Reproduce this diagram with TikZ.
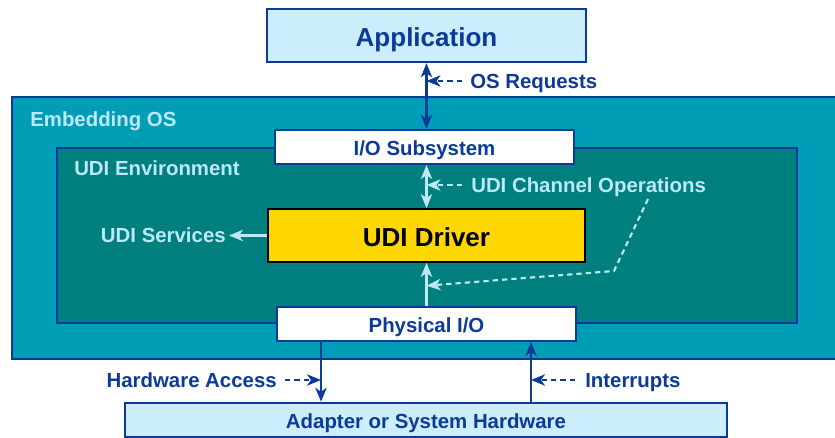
\documentclass[tikz,border=0pt]{standalone}
\usepackage{fontspec}
\setmainfont{Liberation Sans}
\usetikzlibrary{arrows.meta,positioning,calc}
\definecolor{udiblue}{HTML}{0B3A99}
\definecolor{udipale}{HTML}{BDE9F6}
\definecolor{hwfill}{HTML}{CCEDFC}
\definecolor{osfill}{HTML}{009EB6}
\definecolor{envfill}{HTML}{007F7F}
\definecolor{drvfill}{HTML}{FFD700}
\newcommand{\px}{0.75pt}
\tikzset{
  font=\bfseries\fontsize{15.3}{18}\selectfont,
  every node/.style={text height=11pt, text depth=0pt},
  bigtext/.style={font=\bfseries\fontsize{19.5}{22}\selectfont, text height=17pt},
  hwbox/.style={
    draw=udiblue,
    fill=hwfill,
    line width=1.9pt,
    text=udiblue,
    text height=13pt,
    inner sep=0pt
  },
  osbox/.style={
    draw=udiblue,
    fill=osfill,
    line width=2.2pt,
    inner sep=0pt
  },
  envbox/.style={
    draw=udiblue,
    fill=envfill,
    line width=0.9pt,
    inner sep=0pt
  },
  ioblock/.style={
    draw=udiblue,
    fill=white,
    line width=1.6pt,
    text=udiblue,
    text height=13pt,
    minimum width=299*\px,
    minimum height=34*\px,
    inner sep=0pt
  },
  drvbox/.style={
    draw=black,
    fill=drvfill,
    line width=1.4pt,
    bigtext,
    minimum width=317*\px,
    minimum height=53*\px,
    inner sep=0pt
  },
  lbl/.style={inner sep=0pt, text=udiblue},
  palelbl/.style={inner sep=0pt, text=udipale},
  arrow/.style={-{Stealth[length=10.5pt,width=8.5pt,inset=3pt]}, line width=1.6pt, draw=udiblue},
  dblarrow/.style={arrow, {Stealth[length=10.5pt,width=8.5pt,inset=3pt]}-{Stealth[length=10.5pt,width=8.5pt,inset=3pt]}},
  dasharrow/.style={arrow, dash pattern=on 4pt off 3pt},
  palearrow/.style={arrow, draw=udipale},
  paledbl/.style={dblarrow, draw=udipale},
  paledash/.style={dasharrow, draw=udipale}
}

\begin{document}
\begin{tikzpicture}[x=\px, y=-\px]
\useasboundingbox (0,0) rectangle (835,438);

% --- Embedding OS and UDI environment
\node[osbox, minimum width=838*\px, minimum height=262*\px] (os) at (431,228) {};
\node[envbox, minimum width=740*\px, minimum height=175*\px] (env) at (427,235.5) {};
\node[palelbl, anchor=west] (oslbl) at (30,119) {Embedding OS};
\node[palelbl, anchor=west] (envlbl) at (74,168) {UDI Environment};

% --- Boxes
\node[hwbox, bigtext, minimum width=319*\px, minimum height=53*\px] (app) at (426.5,35.5) {Application};
\node[ioblock] (io) at (424.5,147) {I/O Subsystem};
\node[drvbox] (drv) at (426.5,235.5) {UDI Driver};
\node[ioblock] (phy) at (426.5,324) {Physical I/O};
\node[hwbox, minimum width=602*\px, minimum height=34*\px] (hw) at (426,420) {Adapter or System Hardware};

% --- Labels
\node[lbl, anchor=west] (osreq) at (470,81) {OS Requests};
\node[palelbl, anchor=west] (chan) at (471,185) {UDI Channel Operations};
\node[palelbl, anchor=east] (svc) at (226,235.5) {UDI Services};
\node[lbl, anchor=east] (hwacc) at (277,380) {Hardware Access};
\node[lbl, anchor=west] (irq) at (585,380) {Interrupts};

% --- Arrows
\draw[dblarrow] (app.south) -- (app.south |- io.north);
\draw[dasharrow] ([xshift=-8*\px]osreq.west) -- (osreq.west -| app.south);

\draw[paledbl] (drv.north |- io.south) -- (drv.north);
\draw[paledash] ([xshift=-9*\px]chan.west) -- (chan.west -| drv.north);
\draw[palearrow] (drv.south |- phy.north) -- (drv.south);
\coordinate (opsfoot) at (648,199);
\coordinate (opsbend) at (614,271);
\draw[paledash] (opsfoot) -- (opsbend) -- ($(drv.south)!0.53!(drv.south |- phy.north)$);
\draw[palearrow] (drv.west) -- ([xshift=3*\px]svc.east);

\coordinate (hwx) at ([xshift=-105.5*\px]phy.south);
\coordinate (irqx) at ([xshift=104.5*\px]phy.south);
\draw[arrow] (hwx) -- (hwx |- hw.north);
\draw[arrow] (irqx |- hw.north) -- (irqx);
\draw[dasharrow] ([xshift=8*\px]hwacc.east) -- (hwacc.east -| hwx);
\draw[dasharrow] ([xshift=-10*\px]irq.west) -- (irq.west -| irqx);

\end{tikzpicture}
\end{document}
